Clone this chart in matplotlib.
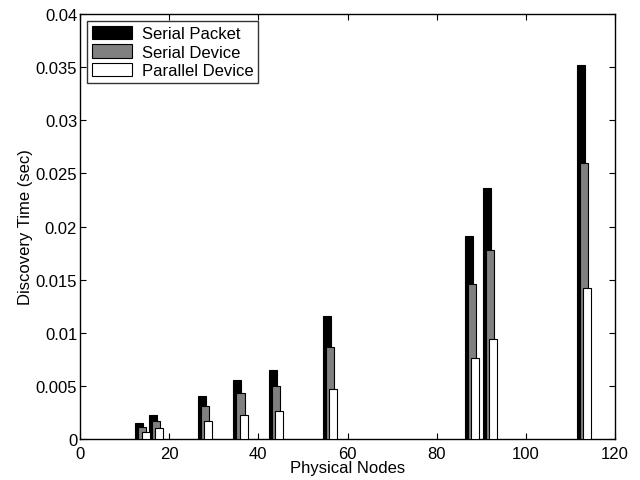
import numpy as np
import matplotlib
matplotlib.use("Agg")
import matplotlib.pyplot as plt

plt.rcParams["font.family"] = ["Liberation Sans", "DejaVu Sans"]

# Physical nodes (group centres) and discovery times (sec)
nodes = [14, 17, 28, 36, 44, 56, 88, 92, 113]
serial_packet = [0.0015, 0.0023, 0.0041, 0.0056, 0.0065, 0.0116, 0.0191, 0.0236, 0.0352]
serial_device = [0.00116, 0.00173, 0.00307, 0.0043, 0.00496, 0.0087, 0.0146, 0.0178, 0.0260]
parallel_device = [0.0007, 0.0010, 0.0017, 0.0023, 0.00265, 0.0047, 0.0076, 0.0094, 0.0142]

labels = ["Serial Packet", "Serial Device", "Parallel Device"]
colors = ["black", "#808080", "white"]

fig = plt.figure(figsize=(6.4, 4.81), dpi=100)
ax = fig.add_axes([0.125, 0.085, 0.836, 0.884])

x = np.array(nodes, dtype=float)
w = 1.8
off = 0.7
for i, (vals, lab, c) in enumerate(zip([serial_packet, serial_device, parallel_device], labels, colors)):
    ax.bar(x + (i - 1) * off, vals, width=w, color=c, edgecolor="black",
           linewidth=0.8, label=lab, zorder=2 + i)

ax.set_xlim(0, 120)
ax.set_ylim(0, 0.04)
ax.set_xticks(range(0, 121, 20))
ax.set_yticks(np.arange(0, 0.0401, 0.005))
ax.set_yticklabels(["0", "0.005", "0.01", "0.015", "0.02", "0.025", "0.03", "0.035", "0.04"])
ax.tick_params(direction="in", top=True, right=True, labelsize=12, length=4, pad=2)
ax.tick_params(axis="x", pad=5)
for s in ax.spines.values():
    s.set_linewidth(1.0)

ax.set_xlabel("Physical Nodes", fontsize=12, labelpad=-1)
ax.set_ylabel("Discovery Time (sec)", fontsize=12, labelpad=2)

leg = ax.legend(loc="upper left", fontsize=12, frameon=True, fancybox=False,
                edgecolor="black", borderaxespad=0.4, handlelength=2.4,
                handleheight=0.85, labelspacing=0.2, borderpad=0.3,
                handletextpad=0.6)
leg.get_frame().set_linewidth(1.0)

fig.savefig("out.png", dpi=100)
